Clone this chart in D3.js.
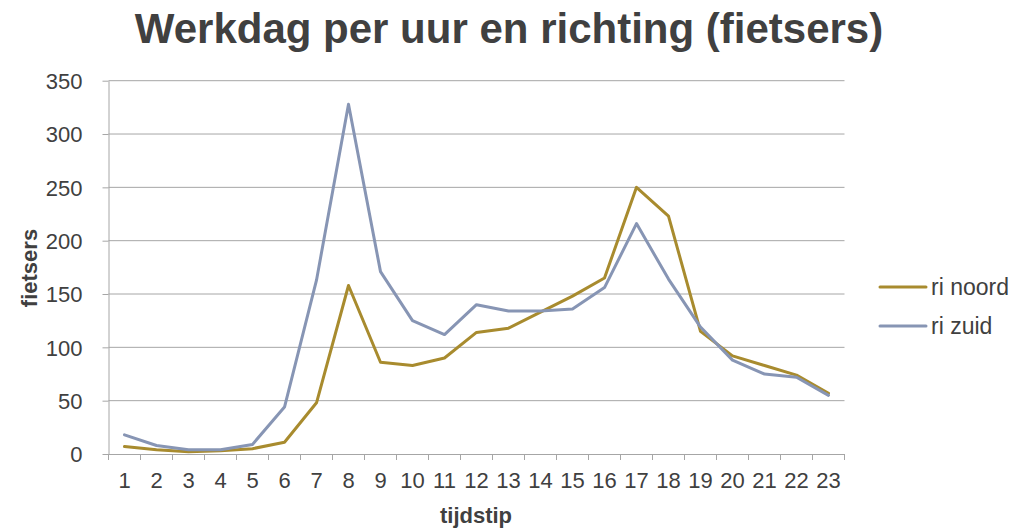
<!DOCTYPE html>
<html><head><meta charset="utf-8">
<script src="https://cdn.jsdelivr.net/npm/d3@7"></script>
<style>body{margin:0;background:#fff;}svg{display:block;font-family:"Liberation Sans",Arial,sans-serif;}</style>
</head><body>
<svg id="chart" width="1029" height="530"></svg>
<script>
const categories = ["1","2","3","4","5","6","7","8","9","10","11","12","13","14","15","16","17","18","19","20","21","22","23"];
const riNoord = [7,4,2,3,5,11,48,158,86,83,90,114,118,133,148,165,250,223,115,92,83,74,57];
const riZuid = [18,8,4,4,9,44,163,328,171,125,112,140,134,134,136,156,216,164,119,88,75,72,55];
const yTicks = [0,50,100,150,200,250,300,350];
const seriesNames = ["ri noord","ri zuid"];
const colors = ["#A88B2E","#8795B4"];

const svg = d3.select("#chart");
const plotLeft = 108.5, plotRight = 844.5, plotTop = 80.7, plotBottom = 454;
const x = d3.scaleBand().domain(categories).range([plotLeft, plotRight]);
const y = d3.scaleLinear().domain([0, 350]).range([plotBottom, plotTop]);
const textColor = "#404040";

// gridlines
svg.append("g").selectAll("line").data(yTicks.filter(d => d > 0)).join("line")
  .attr("x1", plotLeft).attr("x2", plotRight)
  .attr("y1", d => y(d)).attr("y2", d => y(d))
  .attr("stroke", "#A6A6A6").attr("stroke-width", 1);

// y axis
const yAxis = svg.append("g").attr("transform", `translate(${plotLeft},0)`)
  .call(d3.axisLeft(y).tickValues(yTicks).tickSize(6).tickPadding(20).tickSizeOuter(0));
yAxis.select(".domain").attr("stroke", "#A6A6A6");
yAxis.selectAll(".tick line").attr("stroke", "#A6A6A6");
yAxis.selectAll(".tick text").attr("fill", textColor).style("font-size", "22px").attr("dy", "0.35em");

// x axis
const xAxis = svg.append("g").attr("transform", `translate(0,${plotBottom})`)
  .call(d3.axisBottom(x).tickSize(0).tickPadding(18).tickSizeOuter(0));
xAxis.select(".domain").attr("stroke", "#A6A6A6");
xAxis.selectAll(".tick text").attr("fill", textColor).style("font-size", "22px").attr("dy", "0.71em");
// category boundary ticks
const bounds = categories.map(c => x(c)).concat([plotRight]);
svg.append("g").selectAll("line").data(bounds).join("line")
  .attr("x1", d => d).attr("x2", d => d)
  .attr("y1", plotBottom).attr("y2", plotBottom + 6)
  .attr("stroke", "#A6A6A6");

// lines
const line = d3.line().x((d, i) => x(categories[i]) + x.bandwidth() / 2).y(d => y(d));
[riNoord, riZuid].forEach((s, k) => {
  svg.append("path").datum(s).attr("d", line)
    .attr("fill", "none").attr("stroke", colors[k]).attr("stroke-width", 3)
    .attr("stroke-linejoin", "round").attr("stroke-linecap", "round");
});

// title
svg.append("text").attr("x", 509).attr("y", 43).attr("text-anchor", "middle")
  .attr("fill", textColor).style("font-size", "42px").style("font-weight", "bold")
  .text("Werkdag per uur en richting (fietsers)");

// axis titles
svg.append("text").attr("transform", "translate(37,268) rotate(-90)").attr("text-anchor", "middle")
  .attr("fill", textColor).style("font-size", "22px").style("font-weight", "bold").text("fietsers");
svg.append("text").attr("x", 476).attr("y", 523).attr("text-anchor", "middle")
  .attr("fill", textColor).style("font-size", "22px").style("font-weight", "bold").text("tijdstip");

// legend
const lg = svg.append("g").selectAll("g").data(seriesNames).join("g")
  .attr("transform", (d, i) => `translate(880,${287 + i * 39})`);
lg.append("line").attr("x1", 0).attr("x2", 46).attr("y1", 0).attr("y2", 0)
  .attr("stroke", (d, i) => colors[i]).attr("stroke-width", 3).attr("stroke-linecap", "round");
lg.append("text").attr("x", 51).attr("y", 8)
  .attr("fill", textColor).style("font-size", "23px").text(d => d);
</script>
</body></html>
